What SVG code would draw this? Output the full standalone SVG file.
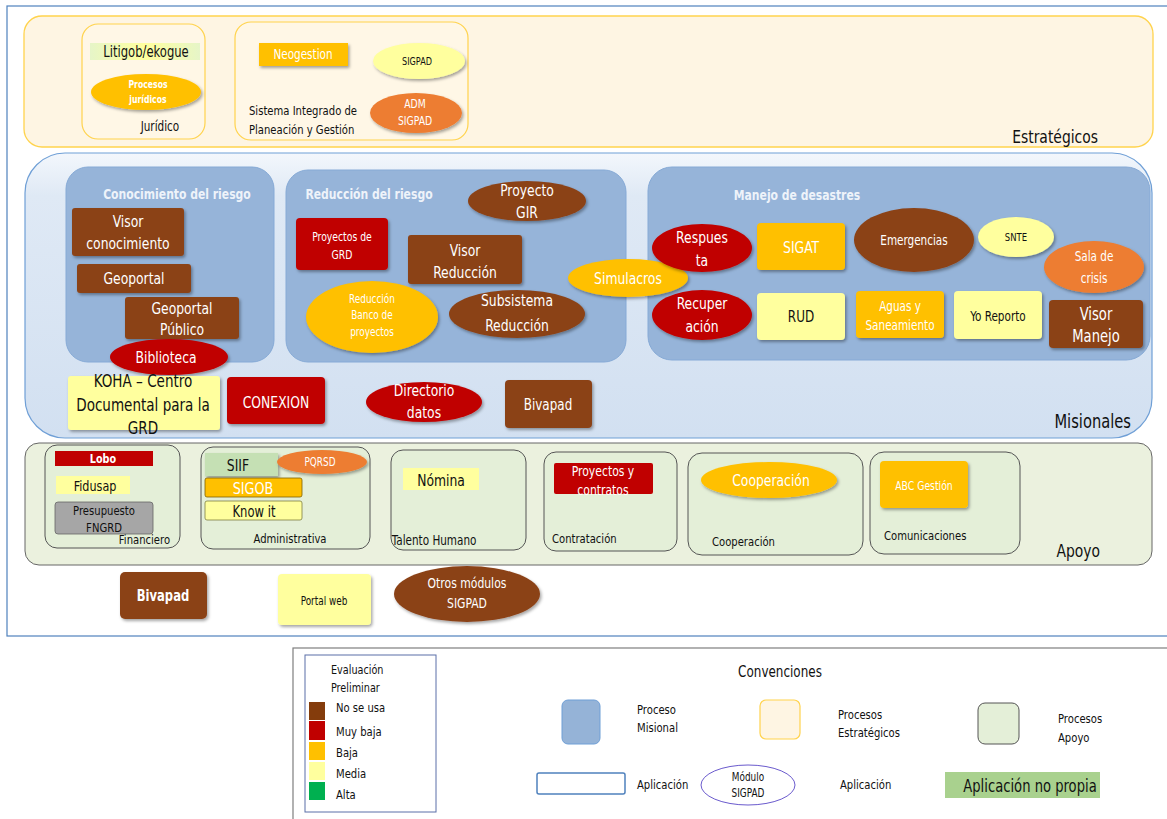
<svg xmlns="http://www.w3.org/2000/svg" width="1167" height="819" viewBox="0 0 1167 819">
<defs>
<filter id="sh" x="-20%" y="-20%" width="150%" height="160%"><feDropShadow dx="1.5" dy="2" stdDeviation="1.5" flood-color="#000" flood-opacity="0.35"/></filter>
<linearGradient id="misG" x1="0" y1="0" x2="0" y2="1"><stop offset="0" stop-color="#f3f7fc"/><stop offset="0.15" stop-color="#dfe9f5"/><stop offset="1" stop-color="#d2e0f1"/></linearGradient>
<linearGradient id="litG" x1="0" y1="0" x2="1" y2="0"><stop offset="0" stop-color="#e6f5c8"/><stop offset="0.5" stop-color="#ffff9e"/><stop offset="1" stop-color="#e6f5c8"/></linearGradient>
<style>
text{font-family:"DejaVu Sans Condensed","Liberation Sans",sans-serif;transform-box:fill-box;transform-origin:left center;transform:scaleX(0.86);}
.c{text-anchor:middle;transform-origin:center}
.e{text-anchor:end;transform-origin:right center}
.w{fill:#fff}
.k{fill:#111}
.t{fill:#eef3fa}
.brown{fill:#8b4219}
.red{fill:#c00000}
.org{fill:#ffc000}
.yel{fill:#ffff9e}
.ored{fill:#ed7d31}
.sub{fill:#96b4d9;stroke:#86aad6;stroke-width:1}
.apsub{fill:#e4efd8;stroke:#555;stroke-width:1}
.estsub{fill:#fff7e6;stroke:#ffd34d;stroke-width:1.2}
</style>
</defs>

<!-- outer frame -->
<rect x="7" y="6" width="1175" height="630" fill="#fff" stroke="#4f81bd" stroke-width="1.2"/>

<!-- bands -->
<g id="estrategicos">
<rect x="24" y="16" width="1129" height="131" rx="18" fill="#fef5e3" stroke="#ffd34d" stroke-width="1.3"/>
<text x="1098" y="143" font-size="18" class="k e">Estratégicos</text>
</g>
<g id="misionales">
<rect x="25" y="153" width="1127" height="285" rx="40" fill="url(#misG)" stroke="#6f9fd6" stroke-width="1.2"/>
<text x="1131" y="428" font-size="19" class="k e">Misionales</text>
</g>
<g id="apoyo">
<rect x="25" y="443" width="1127" height="122" rx="14" fill="#ebf1de" stroke="#666" stroke-width="1"/>
<text x="1100" y="557" font-size="18" class="k e">Apoyo</text>
</g>

<!-- Estrategicos sub boxes -->
<g id="juridico">
<rect x="82" y="24" width="123" height="115" rx="16" class="estsub"/>
<text x="160" y="131" font-size="13.5" class="k c">Jurídico</text>
</g>
<g id="litigob">
<rect x="90" y="43" width="110" height="17" fill="url(#litG)"/>
<text x="146" y="57" font-size="15" class="k c">Litigob/ekogue</text>
</g>
<g id="procesos-juridicos">
<ellipse cx="146" cy="92" rx="55" ry="18" class="org" filter="url(#sh)"/>
<text x="148" y="88" font-size="10" class="w c" font-weight="bold">Procesos</text>
<text x="148" y="103" font-size="10" class="w c" font-weight="bold">jurídicos</text>
</g>
<g id="sig">
<rect x="235" y="22" width="233" height="118" rx="16" class="estsub"/>
<text x="249" y="115" font-size="13" class="k">Sistema Integrado de</text>
<text x="249" y="134" font-size="13" class="k">Planeación y Gestión</text>
</g>
<g id="neogestion">
<rect x="259" y="43" width="89" height="23" class="org" filter="url(#sh)"/>
<text x="303" y="59" font-size="13.5" class="w c">Neogestion</text>
</g>
<g id="sigpad">
<ellipse cx="419" cy="61" rx="46" ry="18" class="yel" filter="url(#sh)"/>
<text x="417" y="65" font-size="10.5" class="k c">SIGPAD</text>
</g>
<g id="adm-sigpad">
<ellipse cx="416" cy="113" rx="46" ry="20" class="ored" filter="url(#sh)"/>
<text x="415" y="108" font-size="12" class="w c">ADM</text>
<text x="415" y="125" font-size="12" class="w c">SIGPAD</text>
</g>

<!-- Conocimiento del riesgo -->
<g id="conocimiento">
<rect x="66" y="167" width="208" height="195" rx="22" class="sub"/>
<text x="177" y="199" font-size="14" class="t c" font-weight="bold">Conocimiento del riesgo</text>
</g>
<g id="visor-conocimiento">
<rect x="72" y="208" width="112" height="48" rx="3" class="brown" filter="url(#sh)"/>
<text x="128" y="227" font-size="16" class="w c">Visor</text>
<text x="128" y="249" font-size="16" class="w c">conocimiento</text>
</g>
<g id="geoportal">
<rect x="77" y="264" width="114" height="29" rx="3" class="brown" filter="url(#sh)"/>
<text x="134" y="284" font-size="16" class="w c">Geoportal</text>
</g>
<g id="geoportal-publico">
<rect x="125" y="297" width="114" height="42" rx="3" class="brown" filter="url(#sh)"/>
<text x="182" y="314" font-size="16" class="w c">Geoportal</text>
<text x="182" y="335" font-size="16" class="w c">Público</text>
</g>
<g id="biblioteca">
<ellipse cx="169" cy="357" rx="59" ry="18" class="red" filter="url(#sh)"/>
<text x="166" y="363" font-size="16" class="w c">Biblioteca</text>
</g>

<!-- Reduccion del riesgo -->
<g id="reduccion">
<rect x="286" y="170" width="340" height="192" rx="22" class="sub"/>
<text x="369" y="199" font-size="14" class="t c" font-weight="bold">Reducción del riesgo</text>
</g>
<g id="proyecto-gir">
<ellipse cx="527" cy="201" rx="59" ry="20" class="brown" filter="url(#sh)"/>
<text x="527" y="196" font-size="16" class="w c">Proyecto</text>
<text x="527" y="218" font-size="16" class="w c">GIR</text>
</g>
<g id="proyectos-grd">
<rect x="296" y="218" width="92" height="52" rx="4" class="red" filter="url(#sh)"/>
<text x="342" y="241" font-size="12" class="w c">Proyectos de</text>
<text x="342" y="259" font-size="12" class="w c">GRD</text>
</g>
<g id="visor-reduccion">
<rect x="408" y="235" width="114" height="49" rx="3" class="brown" filter="url(#sh)"/>
<text x="465" y="256" font-size="16" class="w c">Visor</text>
<text x="465" y="278" font-size="16" class="w c">Reducción</text>
</g>
<g id="banco-proyectos">
<ellipse cx="372" cy="317" rx="66" ry="36" class="org" filter="url(#sh)"/>
<text x="372" y="303" font-size="11.5" class="w c">Reducción</text>
<text x="372" y="319" font-size="11.5" class="w c">Banco de</text>
<text x="372" y="336" font-size="11.5" class="w c">proyectos</text>
</g>
<g id="subsistema-reduccion">
<ellipse cx="517" cy="314" rx="68" ry="24" class="brown" filter="url(#sh)"/>
<text x="517" y="306" font-size="16" class="w c">Subsistema</text>
<text x="517" y="331" font-size="16" class="w c">Reducción</text>
</g>

<!-- Manejo de desastres -->
<g id="manejo">
<rect x="648" y="167" width="502" height="193" rx="24" class="sub"/>
<text x="797" y="200" font-size="14" class="t c" font-weight="bold">Manejo de  desastres</text>
</g>
<g id="simulacros">
<ellipse cx="628" cy="278" rx="60" ry="19" class="org" filter="url(#sh)"/>
<text x="628" y="284" font-size="16" class="w c">Simulacros</text>
</g>
<g id="respuesta">
<ellipse cx="702" cy="248" rx="50" ry="24" class="red" filter="url(#sh)"/>
<text x="702" y="243" font-size="16" class="w c">Respues</text>
<text x="702" y="266" font-size="16" class="w c">ta</text>
</g>
<g id="sigat">
<rect x="757" y="223" width="88" height="47" rx="4" class="org" filter="url(#sh)"/>
<text x="801" y="253" font-size="16" class="w c">SIGAT</text>
</g>
<g id="emergencias">
<ellipse cx="914" cy="240" rx="60" ry="32" class="brown" filter="url(#sh)"/>
<text x="914" y="245" font-size="13.5" class="w c">Emergencias</text>
</g>
<g id="snte">
<ellipse cx="1016" cy="237" rx="38" ry="20" class="yel" filter="url(#sh)"/>
<text x="1016" y="241" font-size="11" class="k c">SNTE</text>
</g>
<g id="sala-crisis">
<ellipse cx="1094" cy="267" rx="50" ry="26" class="ored" filter="url(#sh)"/>
<text x="1094" y="261" font-size="13.5" class="w c">Sala de</text>
<text x="1094" y="283" font-size="13.5" class="w c">crisis</text>
</g>
<g id="recuperacion">
<ellipse cx="702" cy="315" rx="50" ry="25" class="red" filter="url(#sh)"/>
<text x="702" y="309" font-size="16" class="w c">Recuper</text>
<text x="702" y="332" font-size="16" class="w c">ación</text>
</g>
<g id="rud">
<rect x="757" y="293" width="88" height="47" rx="4" class="yel" filter="url(#sh)"/>
<text x="801" y="322" font-size="15.5" class="k c">RUD</text>
</g>
<g id="aguas">
<rect x="856" y="291" width="88" height="47" rx="4" class="org" filter="url(#sh)"/>
<text x="900" y="311" font-size="13.5" class="w c">Aguas y</text>
<text x="900" y="330" font-size="13.5" class="w c">Saneamiento</text>
</g>
<g id="yo-reporto">
<rect x="954" y="291" width="88" height="48" rx="4" class="yel" filter="url(#sh)"/>
<text x="998" y="321" font-size="13.5" class="k c">Yo Reporto</text>
</g>
<g id="visor-manejo">
<rect x="1049" y="300" width="94" height="48" rx="4" class="brown" filter="url(#sh)"/>
<text x="1096" y="320" font-size="17" class="w c">Visor</text>
<text x="1096" y="342" font-size="17" class="w c">Manejo</text>
</g>

<!-- Misionales bottom row -->
<g id="koha">
<rect x="68" y="376" width="152" height="54" rx="3" class="yel" filter="url(#sh)"/>
<text x="143" y="387" font-size="17.5" class="k c">KOHA – Centro</text>
<text x="143" y="411" font-size="17.5" class="k c">Documental para la</text>
<text x="143" y="434" font-size="17.5" class="k c">GRD</text>
</g>
<g id="conexion">
<rect x="227" y="377" width="98" height="47" rx="4" class="red" filter="url(#sh)"/>
<text x="276" y="408" font-size="16" class="w c">CONEXION</text>
</g>
<g id="directorio">
<ellipse cx="424" cy="402" rx="58" ry="20" class="red" filter="url(#sh)"/>
<text x="424" y="396" font-size="16" class="w c">Directorio</text>
<text x="424" y="418" font-size="16" class="w c">datos</text>
</g>
<g id="bivapad-mis">
<rect x="505" y="380" width="87" height="48" rx="4" class="brown" filter="url(#sh)"/>
<text x="548" y="410" font-size="15.5" class="w c">Bivapad</text>
</g>

<!-- Apoyo sub boxes -->
<g id="financiero">
<rect x="45" y="445" width="135" height="103" rx="12" class="apsub"/>
<text x="170" y="544" font-size="13" class="k e">Financiero</text>
</g>
<g id="lobo">
<rect x="55" y="451" width="98" height="15" class="red"/>
<text x="103" y="463" font-size="12.5" class="w c" font-weight="bold">Lobo</text>
</g>
<g id="fidusap">
<rect x="56" y="476" width="74" height="18" class="yel"/>
<text x="95" y="491" font-size="14.5" class="k c">Fidusap</text>
</g>
<g id="presupuesto">
<rect x="55" y="502" width="98" height="32" rx="3" fill="#a6a6a6" stroke="#666" stroke-width="0.8"/>
<text x="104" y="515" font-size="13" class="k c">Presupuesto</text>
<text x="104" y="532" font-size="13" class="k c">FNGRD</text>
</g>
<g id="administrativa">
<rect x="201" y="447" width="169" height="102" rx="12" class="apsub"/>
<text x="290" y="543" font-size="13" class="k c">Administrativa</text>
</g>
<g id="siif">
<rect x="205" y="453" width="73" height="23" fill="#c5e0b4" filter="url(#sh)"/>
<text x="238" y="471" font-size="16" class="k c">SIIF</text>
</g>
<g id="pqrsd">
<ellipse cx="322" cy="462" rx="45" ry="12" class="ored" filter="url(#sh)"/>
<text x="320" y="466" font-size="11.5" class="w c">PQRSD</text>
</g>
<g id="sigob">
<rect x="205" y="478" width="97" height="19" rx="2" class="org" stroke="#7f6000" stroke-width="0.8"/>
<text x="253" y="494" font-size="16.5" class="w c">SIGOB</text>
</g>
<g id="knowit">
<rect x="205" y="501" width="97" height="19" rx="2" class="yel" stroke="#7f7f3f" stroke-width="0.8"/>
<text x="254" y="517" font-size="15" class="k c">Know it</text>
</g>
<g id="talento">
<rect x="391" y="450" width="135" height="100" rx="12" class="apsub"/>
<text x="392" y="545" font-size="13.5" class="k">Talento Humano</text>
</g>
<g id="nomina">
<rect x="403" y="468" width="76" height="22" class="yel"/>
<text x="441" y="486" font-size="16" class="k c">Nómina</text>
</g>
<g id="contratacion">
<rect x="544" y="452" width="133" height="99" rx="12" class="apsub"/>
<text x="552" y="543" font-size="13" class="k">Contratación</text>
</g>
<g id="proyectos-contratos">
<rect x="554" y="463" width="99" height="31" rx="2" class="red"/>
<text x="603" y="476" font-size="14" class="w c">Proyectos y</text>
<text x="603" y="495" font-size="14" class="w c">contratos</text>
</g>
<g id="cooperacion-box">
<rect x="688" y="453" width="175" height="102" rx="14" class="apsub"/>
<text x="712" y="546" font-size="13" class="k">Cooperación</text>
</g>
<g id="cooperacion">
<ellipse cx="769" cy="480" rx="68" ry="18" class="org" filter="url(#sh)"/>
<text x="771" y="486" font-size="16" class="w c">Cooperación</text>
</g>
<g id="comunicaciones">
<rect x="870" y="452" width="150" height="102" rx="14" class="apsub"/>
<text x="884" y="540" font-size="13" class="k">Comunicaciones</text>
</g>
<g id="abc">
<rect x="880" y="461" width="88" height="47" rx="4" class="org" filter="url(#sh)"/>
<text x="924" y="490" font-size="12" class="w c">ABC Gestión</text>
</g>

<!-- Below Apoyo -->
<g id="bivapad">
<rect x="120" y="572" width="87" height="47" rx="5" class="brown" filter="url(#sh)"/>
<text x="163" y="601" font-size="15" class="w c" font-weight="bold">Bivapad</text>
</g>
<g id="portal-web">
<rect x="278" y="574" width="93" height="51" rx="4" class="yel" filter="url(#sh)"/>
<text x="324" y="605" font-size="11.5" class="k c">Portal web</text>
</g>
<g id="otros-modulos">
<ellipse cx="467" cy="594" rx="73" ry="28" class="brown" filter="url(#sh)"/>
<text x="467" y="588" font-size="14" class="w c">Otros módulos</text>
<text x="467" y="608" font-size="14" class="w c">SIGPAD</text>
</g>

<!-- Legend -->
<g id="legend">
<rect x="293" y="648" width="890" height="178" fill="#fff" stroke="#7f7f7f" stroke-width="1.2"/>
<rect x="305" y="655" width="131" height="157" fill="#fff" stroke="#5a6fa8" stroke-width="1"/>
<text x="331" y="674" font-size="12.5" class="k">Evaluación</text>
<text x="331" y="692" font-size="12.5" class="k">Preliminar</text>
<rect x="309" y="702" width="16" height="18" fill="#843c0c"/>
<text x="336" y="712" font-size="13" class="k">No se usa</text>
<rect x="309" y="721" width="16" height="19" fill="#c00000"/>
<text x="336" y="736" font-size="13" class="k">Muy baja</text>
<rect x="309" y="742" width="16" height="18" fill="#ffc000"/>
<text x="336" y="757" font-size="13" class="k">Baja</text>
<rect x="309" y="762" width="16" height="18" fill="#ffff9e"/>
<text x="336" y="778" font-size="13" class="k">Media</text>
<rect x="309" y="782" width="16" height="18" fill="#00b050"/>
<text x="336" y="799" font-size="13" class="k">Alta</text>

<text x="780" y="677" font-size="15.5" class="k c">Convenciones</text>
<rect x="562" y="700" width="38" height="44" rx="6" fill="#95b3d7" stroke="#6f9fd6" stroke-width="1"/>
<text x="637" y="714" font-size="13" class="k">Proceso</text>
<text x="637" y="732" font-size="13" class="k">Misional</text>
<rect x="760" y="700" width="40" height="39" rx="6" fill="#fef5e3" stroke="#ffd34d" stroke-width="1.2"/>
<text x="838" y="719" font-size="13" class="k">Procesos</text>
<text x="838" y="737" font-size="13" class="k">Estratégicos</text>
<rect x="978" y="703" width="41" height="41" rx="7" fill="#e4efd8" stroke="#555" stroke-width="1"/>
<text x="1058" y="723" font-size="13" class="k">Procesos</text>
<text x="1058" y="742" font-size="13" class="k">Apoyo</text>
<rect x="537" y="773" width="88" height="21" rx="2" fill="#fff" stroke="#4f81bd" stroke-width="1.5"/>
<text x="637" y="789" font-size="13" class="k">Aplicación</text>
<ellipse cx="748" cy="785" rx="47" ry="20" fill="#fff" stroke="#6a5acd" stroke-width="1"/>
<text x="748" y="781" font-size="11.5" class="k c">Módulo</text>
<text x="748" y="797" font-size="11.5" class="k c">SIGPAD</text>
<text x="840" y="789" font-size="13" class="k">Aplicación</text>
<rect x="945" y="772" width="155" height="26" fill="#a9d18e"/>
<text x="1030" y="792" font-size="17" class="k c">Aplicación no propia</text>
</g>
</svg>
